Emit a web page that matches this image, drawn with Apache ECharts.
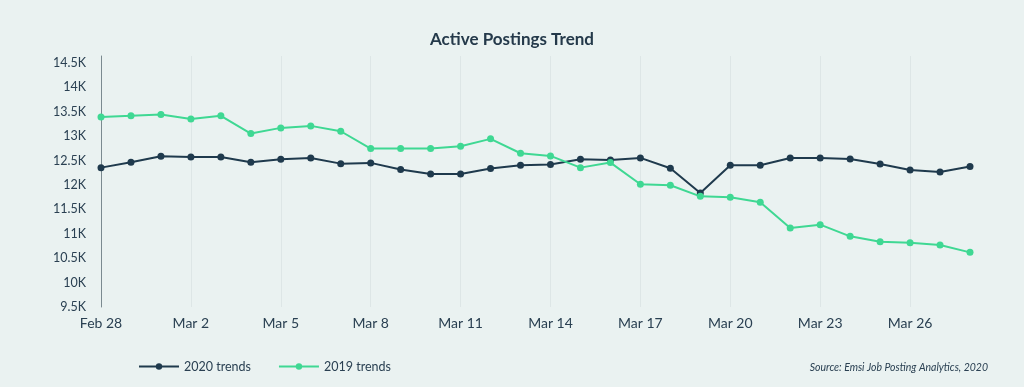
<!DOCTYPE html>
<html>
<head>
<meta charset="utf-8">
<script src="https://cdn.jsdelivr.net/npm/echarts@6/dist/echarts.min.js"></script>
<style>
html,body{margin:0;padding:0;background:#eaf2f1;}
#chart{width:1024px;height:387px;}
</style>
</head>
<body>
<div id="chart"></div>
<script>
const categories = ['Feb 28','Feb 29','Mar 1','Mar 2','Mar 3','Mar 4','Mar 5','Mar 6','Mar 7','Mar 8','Mar 9','Mar 10','Mar 11','Mar 12','Mar 13','Mar 14','Mar 15','Mar 16','Mar 17','Mar 18','Mar 19','Mar 20','Mar 21','Mar 22','Mar 23','Mar 24','Mar 25','Mar 26','Mar 27','Mar 28'];
const trends2020 = [12354,12463,12586,12573,12573,12463,12525,12553,12436,12451,12314,12225,12225,12334,12402,12416,12525,12512,12553,12340,11836,12402,12402,12553,12553,12533,12430,12307,12266,12375];
const trends2019 = [13393,13414,13441,13352,13414,13051,13168,13209,13099,12744,12744,12744,12791,12943,12648,12594,12354,12457,12013,11992,11766,11746,11644,11119,11186,10947,10838,10818,10770,10619];
const title = 'Active Postings Trend';
const source = 'Source: Emsi Job Posting Analytics, 2020';

const FONT = 'Lato';
const TEXT = '#2a4052';
const chart = echarts.init(document.getElementById('chart'));
chart.setOption({
  backgroundColor: '#eaf2f1',
  animation: false,
  title: {
    text: title, left: 'center', top: 26,
    textStyle: {fontFamily: FONT, fontSize: 17, fontWeight: 'bold', color: '#24394a'}
  },
  legend: {
    left: 133, top: 355, itemWidth: 40, itemHeight: 8, itemGap: 27,
    textStyle: {fontFamily: FONT, fontSize: 12.5, color: TEXT}
  },
  grid: {left: 101, right: 54, top: 56, bottom: 80, containLabel: false},
  xAxis: {
    type: 'category', data: categories, boundaryGap: false,
    axisLine: {show: false}, axisTick: {show: false},
    axisLabel: {interval: 2, fontFamily: FONT, fontSize: 14, color: TEXT, margin: 9},
    splitLine: {show: true, interval: 2, lineStyle: {color: '#dde6e6', width: 1}}
  },
  yAxis: {
    type: 'value', min: 9500, max: 14640, interval: 500,
    axisLine: {show: true, lineStyle: {color: '#7b8a90', width: 1}},
    axisTick: {show: false},
    splitLine: {show: false},
    axisLabel: {
      showMaxLabel: false, fontFamily: FONT, fontSize: 12.5, color: TEXT, margin: 15,
      formatter: v => (v % 500 === 0) ? (v / 1000) + 'K' : ''
    }
  },
  series: [
    {name: '2020 trends', type: 'line', data: trends2020, symbol: 'circle', symbolSize: 7,
     lineStyle: {color: '#1f3a4d', width: 2}, itemStyle: {color: '#1f3a4d'}},
    {name: '2019 trends', type: 'line', data: trends2019, symbol: 'circle', symbolSize: 7,
     lineStyle: {color: '#3fd893', width: 2}, itemStyle: {color: '#3fd893'}}
  ],
  graphic: [{
    type: 'text', right: 36, top: 362,
    style: {text: source, fontFamily: FONT, fontSize: 10.5, fontStyle: 'italic', fill: TEXT}
  }]
});
</script>
</body>
</html>
